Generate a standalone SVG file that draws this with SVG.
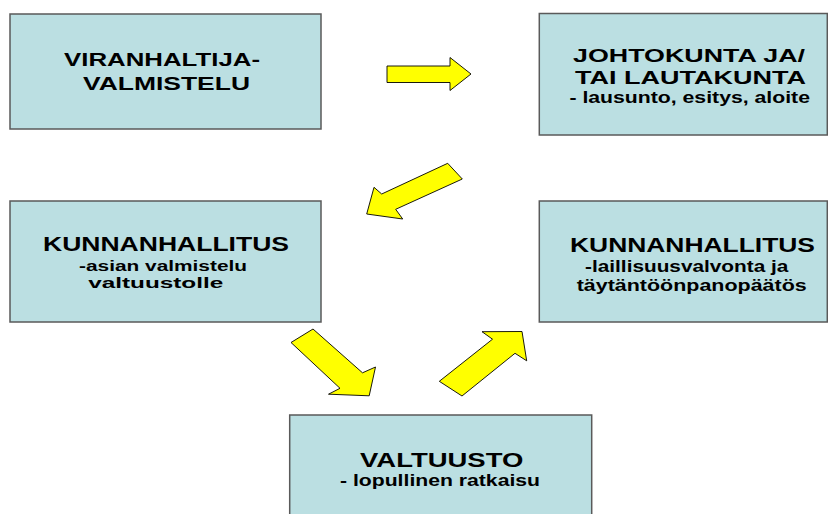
<svg xmlns="http://www.w3.org/2000/svg" width="828" height="514" viewBox="0 0 828 514">
<style>
.box{fill:#BBDFE2;stroke:#5a5a5a;stroke-width:1.5}
.arr{fill:#FFFF00;stroke:#000;stroke-width:0.9;stroke-linejoin:miter}
text{font-family:"Liberation Sans",Arial,sans-serif;font-weight:bold;fill:#000;text-anchor:middle}
.t1{font-size:17.5px}
.t2{font-size:21px}
.s{font-size:16.5px}
.s2{font-size:14.5px}
</style>
<rect width="828" height="514" fill="#fff"/>
<g id="connectors">
<polygon class="arr" points="387,66 450,66 450,57.5 471,74 450,90.5 450,82.5 387,82.5"/>
<polygon class="arr" points="447.7,163.3 462.3,179 395.7,209.3 402.7,219 366.7,214 374,187.3 381.7,194"/>
<polygon class="arr" points="291,342.5 313,329 362.5,372.8 375.5,367 369.2,395.8 328.5,394.2 340,388.3"/>
<polygon class="arr" points="439.3,381.3 462,396 515,353.3 526.7,360.8 522,331.5 482,331.7 492.5,339.2"/>
</g>
<g id="n1">
<rect class="box" x="10" y="14" width="311" height="115"/>
<text class="t1" x="162" y="66" textLength="196" lengthAdjust="spacingAndGlyphs">VIRANHALTIJA-</text>
<text class="t1" x="166.5" y="90" textLength="167" lengthAdjust="spacingAndGlyphs">VALMISTELU</text>
</g>
<g id="n2">
<rect class="box" x="539.3" y="13.5" width="288" height="121.5"/>
<text class="t1" x="689" y="62.3" textLength="232" lengthAdjust="spacingAndGlyphs">JOHTOKUNTA JA/</text>
<text class="t1" x="690.5" y="84.3" textLength="231" lengthAdjust="spacingAndGlyphs">TAI LAUTAKUNTA</text>
<text class="s" x="689.7" y="103.3" textLength="240.5" lengthAdjust="spacingAndGlyphs">- lausunto, esitys, aloite</text>
</g>
<g id="n3">
<rect class="box" x="10" y="201" width="311" height="121"/>
<text class="t2" x="166" y="251" textLength="246" lengthAdjust="spacingAndGlyphs">KUNNANHALLITUS</text>
<text class="s2" x="163" y="270.5" textLength="168" lengthAdjust="spacingAndGlyphs">-asian valmistelu</text>
<text class="s2" x="155.7" y="287.5" textLength="135" lengthAdjust="spacingAndGlyphs">valtuustolle</text>
</g>
<g id="n4">
<rect class="box" x="539.3" y="201" width="288" height="121"/>
<text class="t2" x="692.5" y="252.3" textLength="245" lengthAdjust="spacingAndGlyphs">KUNNANHALLITUS</text>
<text class="s" x="686.7" y="272.3" textLength="203.3" lengthAdjust="spacingAndGlyphs">-laillisuusvalvonta ja</text>
<text class="s" x="691.7" y="290.7" textLength="230" lengthAdjust="spacingAndGlyphs">täytäntöönpanopäätös</text>
</g>
<g id="n5">
<rect class="box" x="289.7" y="415" width="302" height="110"/>
<text class="t2" x="441.7" y="467" textLength="163.3" lengthAdjust="spacingAndGlyphs">VALTUUSTO</text>
<text class="s" x="440" y="486" textLength="200" lengthAdjust="spacingAndGlyphs">- lopullinen ratkaisu</text>
</g>
</svg>
